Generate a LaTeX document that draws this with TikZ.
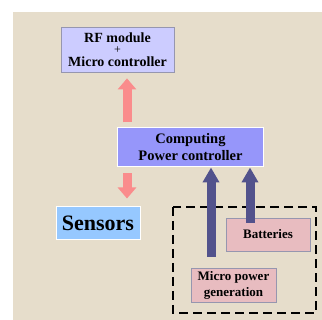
\documentclass[tikz,border=0pt]{standalone}
\usepackage{fontspec}
\setmainfont{Liberation Serif}
\usetikzlibrary{arrows.meta}
\definecolor{bgc}{RGB}{230,221,203}
\definecolor{rfc}{RGB}{204,204,255}
\definecolor{compc}{RGB}{150,150,250}
\definecolor{senc}{RGB}{150,200,255}
\definecolor{pinkbox}{RGB}{232,188,192}
\definecolor{pinkarr}{RGB}{250,140,140}
\definecolor{bluearr}{RGB}{82,82,140}
\definecolor{edgec}{RGB}{150,150,175}
\tikzset{
  box/.style={inner sep=0pt, align=center},
  parrow/.style={draw=pinkarr, line width=9pt, -{Triangle[width=18pt,length=11pt]}},
  barrow/.style={draw=bluearr, line width=9pt, -{Triangle[width=16pt,length=15pt]}},
  dbox/.style={draw=black, line width=2.5pt, dash pattern=on 9pt off 5pt}
}
\begin{document}
\begin{tikzpicture}[x=1pt,y=-1pt]
\useasboundingbox (0,0) rectangle (322,320);
\fill[bgc] (13,12) rectangle (322,320);
\node[box, fill=rfc, draw=edgec, line width=0.8pt, minimum width=113pt, minimum height=45pt,
  font=\bfseries\fontsize{14}{12}\selectfont] (rf) at (117.5,49.5)
  {RF module\\[-1pt]{\mdseries\fontsize{12}{10}\selectfont +}\\[1.5pt]Micro controller};
\node[box, fill=compc, draw=white, line width=1pt, minimum width=146pt, minimum height=39pt,
  font=\bfseries\fontsize{14.5}{17}\selectfont] (comp) at (190.5,147.5)
  {Computing\\Power controller};
\node[box, fill=senc, draw=white, line width=1pt, minimum width=84pt, minimum height=33pt,
  font=\bfseries\fontsize{22}{24}\selectfont] (sen) at (98,223.5)
  {Sensors};
\node[box, fill=pinkbox, draw=edgec, line width=0.6pt, minimum width=84pt, minimum height=33pt,
  font=\bfseries\fontsize{13}{15}\selectfont] (bat) at (268,234.5)
  {Batteries};
\node[box, fill=pinkbox, draw=edgec, line width=0.6pt, minimum width=85pt, minimum height=34pt,
  font=\bfseries\fontsize{13}{16}\selectfont] (mpg) at (233.5,285)
  {Micro power\\generation};
\draw[dbox] (173,207) rectangle (316,313);
\coordinate (xp) at (127,0);
\coordinate (xb1) at (211,0);
\coordinate (xb2) at (250,0);
\draw[parrow, shorten <=5pt, shorten >=6pt] (comp.north -| xp) -- (rf.south -| xp);
\draw[parrow, shorten <=6pt, shorten >=8pt] (comp.south -| xp) -- (sen.north -| xp);
\draw[barrow, shorten <=11pt] (mpg.north -| xb1) -- (comp.south -| xb1);
\draw[barrow, shorten <=-5pt] (bat.north -| xb2) -- (comp.south -| xb2);
\end{tikzpicture}
\end{document}
